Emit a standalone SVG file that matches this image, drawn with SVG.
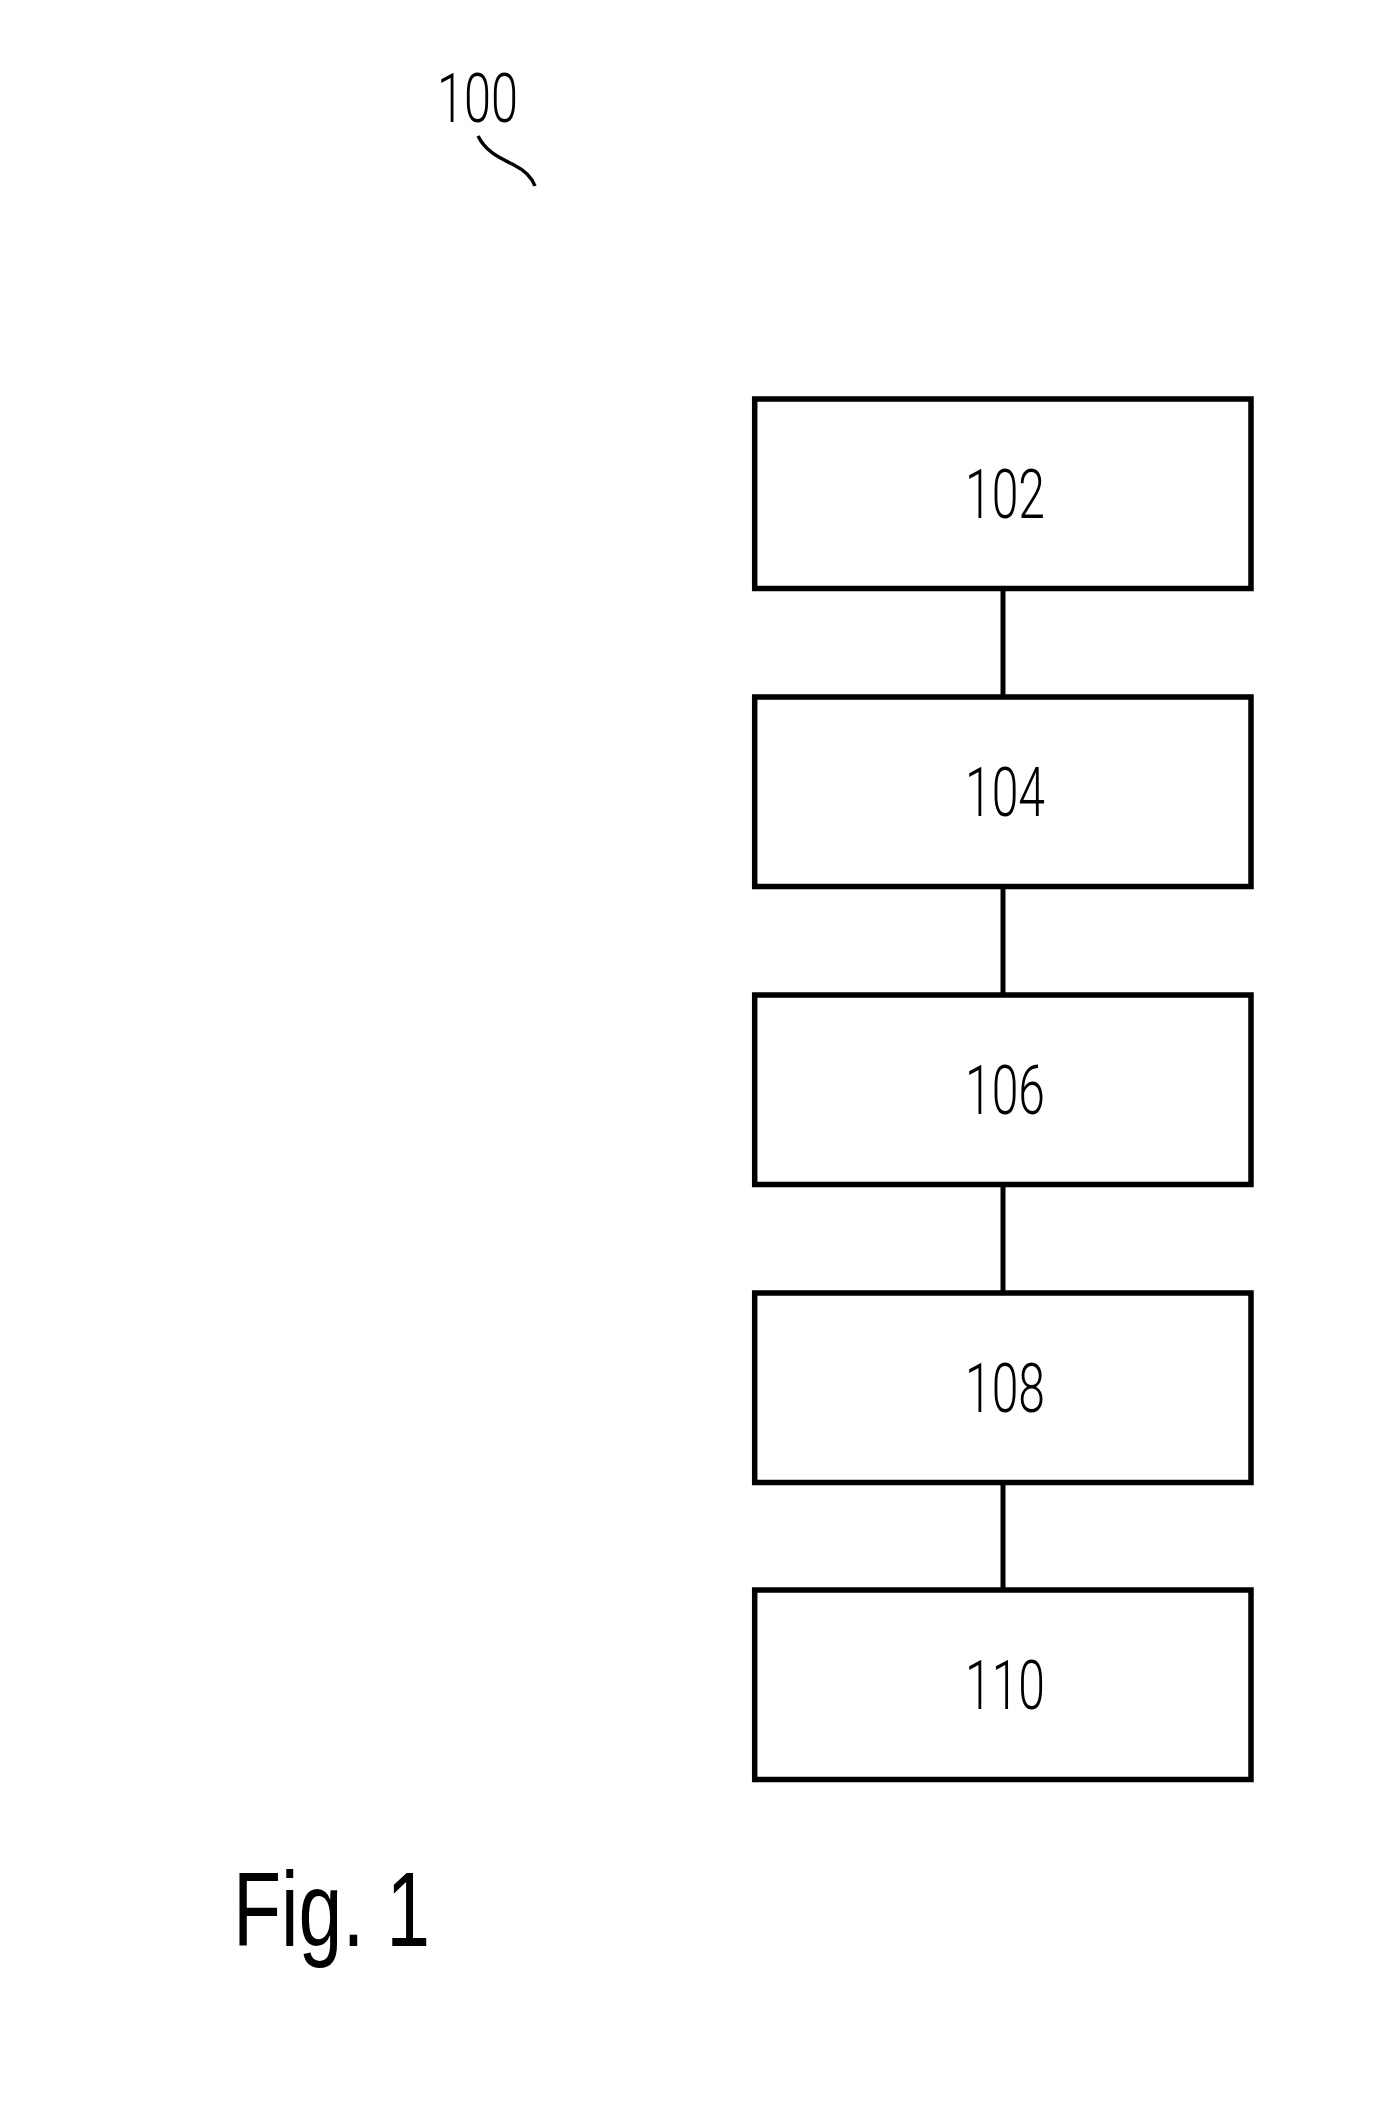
<svg xmlns="http://www.w3.org/2000/svg" width="1377" height="2126" viewBox="0 0 1377 2126">
<style>
.box{fill:#fff;stroke:#000;stroke-width:5.5}
.lbl{font-family:Roboto,"Liberation Sans",Arial,sans-serif;font-weight:300;font-size:69px;fill:#000}
.conn{stroke:#000;stroke-width:5;fill:none}
</style>
<rect width="1377" height="2126" fill="#fff"/>
<g id="ref100">
<text class="lbl" x="437" y="122" textLength="81" lengthAdjust="spacingAndGlyphs">100</text>
<path d="M478,136 C486,152 500,158 514,165 C526,171 532,178 535,186" fill="none" stroke="#000" stroke-width="3.5"/>
</g>
<g id="connectors">
<line class="conn" x1="1003" y1="590" x2="1003" y2="695"/>
<line class="conn" x1="1003" y1="888" x2="1003" y2="993"/>
<line class="conn" x1="1003" y1="1186" x2="1003" y2="1291"/>
<line class="conn" x1="1003" y1="1484" x2="1003" y2="1589"/>
</g>
<g id="n102"><rect class="box" x="754.7" y="399" width="496.3" height="189.5"/><text class="lbl" x="965" y="518" textLength="80" lengthAdjust="spacingAndGlyphs">102</text></g>
<g id="n104"><rect class="box" x="754.7" y="697" width="496.3" height="189.5"/><text class="lbl" x="965" y="816" textLength="80" lengthAdjust="spacingAndGlyphs">104</text></g>
<g id="n106"><rect class="box" x="754.7" y="995" width="496.3" height="189.5"/><text class="lbl" x="965" y="1114" textLength="80" lengthAdjust="spacingAndGlyphs">106</text></g>
<g id="n108"><rect class="box" x="754.7" y="1293" width="496.3" height="189.5"/><text class="lbl" x="965" y="1412" textLength="80" lengthAdjust="spacingAndGlyphs">108</text></g>
<g id="n110"><rect class="box" x="754.7" y="1590" width="496.3" height="189.5"/><text class="lbl" x="965" y="1709" textLength="80" lengthAdjust="spacingAndGlyphs">110</text></g>
<text x="233" y="1946" font-family="Liberation Sans,Arial,sans-serif" font-size="106" fill="#000" textLength="197" lengthAdjust="spacingAndGlyphs">Fig. 1</text>
</svg>
